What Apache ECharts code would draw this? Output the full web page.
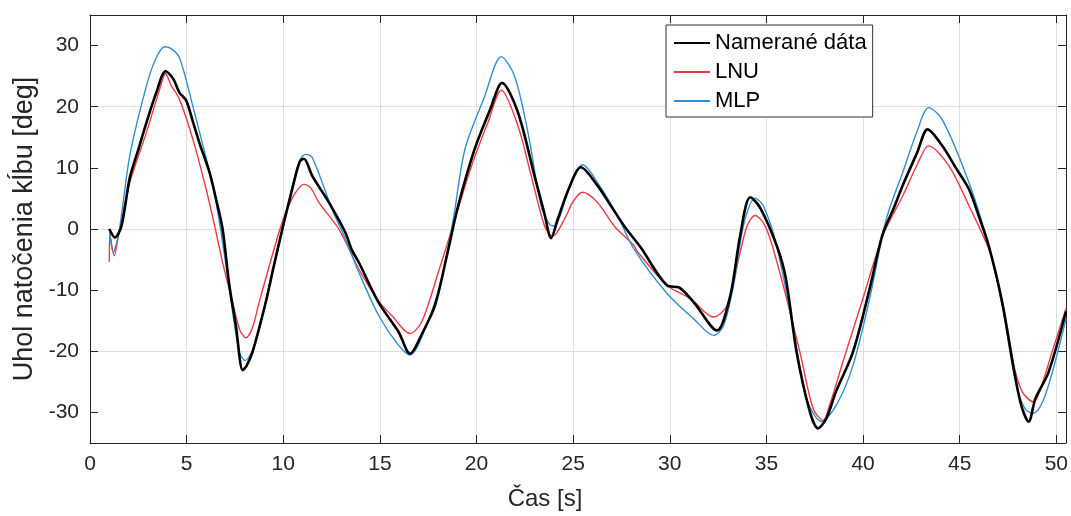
<!DOCTYPE html>
<html><head><meta charset="utf-8">
<script src="https://cdn.jsdelivr.net/npm/echarts@6/dist/echarts.min.js"></script>
<style>html,body{margin:0;padding:0;background:#fff}#c{width:1071px;height:516px}</style>
</head><body><div id="c"></div>
<script>
const seriesNames = ['Namerané dáta', 'LNU', 'MLP'];
const xTicks = [0, 5, 10, 15, 20, 25, 30, 35, 40, 45, 50];
const yTicks = [-30, -20, -10, 0, 10, 20, 30];

const tMeas = [1.0,1.29,1.63,2.06,2.5,2.92,3.43,3.91,4.3,4.63,4.98,5.3,5.66,6.18,6.5,6.86,7.21,7.55,7.9,8.1,8.41,9.1,9.5,9.95,10.5,10.85,11.07,11.5,12.36,13.2,13.56,13.9,14.93,15.96,16.56,17.2,17.85,18.54,19.05,19.9,20.7,21.32,22.14,23.0,23.5,23.86,24.2,24.8,25.4,26.26,26.95,27.64,28.49,29.87,30.5,31.24,32.44,33.13,33.64,34.16,34.67,35.53,36.0,36.56,37.25,37.67,38.1,38.6,39.48,40.34,41.0,41.6,42.05,42.8,43.34,44.1,44.8,45.48,46.0,46.5,47.2,47.89,48.2,48.57,48.92,49.6,50.5];
const vMeas = [0,-1.4,0.5,8.4,13.0,17.4,22.3,25.8,24.6,22.3,21.0,17.8,14.1,9.3,5.2,0,-9.2,-15.8,-23.1,-22.4,-20.1,-11.9,-6.2,0,7,11,11.5,8.7,4.35,-0.5,-3.5,-5.4,-12,-16.8,-20.4,-17,-12.5,-3.3,3.8,13.05,19.5,23.9,19.1,8.7,2.7,-1.5,1.6,6.8,10.1,7.1,3.8,0.5,-3.0,-9.25,-9.6,-12,-16.6,-10.9,-1.1,5.2,3.5,-2.7,-8,-20.1,-29.9,-32.6,-31,-26.6,-20.1,-9.8,-1,3.5,7.1,12.5,16.3,13.6,10,6.5,2,-2.7,-12,-24.5,-29,-31.5,-27.7,-23.4,-13.5];

const tLnu = [1.0,1.03,1.25,1.45,2.06,2.92,3.6,3.91,4.2,4.63,5.32,6.01,6.45,6.9,7.38,7.75,8.07,8.4,8.75,9.78,10.13,10.6,11.07,11.4,11.84,12.87,13.9,14.93,15.6,16.56,17.16,18.02,18.88,19.74,20.6,21.28,22.14,22.83,23.52,23.94,24.55,25.0,25.49,26.26,27.12,28.15,28.3,29.87,31.07,32.27,32.96,33.64,34.0,34.41,34.8,35.19,35.87,36.73,37.42,37.93,38.3,38.96,39.99,41.02,42.05,42.8,43.39,44.45,45.48,46.51,47.03,47.72,48.23,48.83,49.2,49.78,50.5];
const vLnu = [-5.4,-0.8,-4.4,-1.5,7.6,15.8,22.8,25.4,23.5,21.2,14.7,6.5,0.5,-6,-12,-16.5,-17.8,-16.2,-12,-0.5,2.7,5.8,7.3,6.8,4.35,0,-6.5,-11.8,-14.1,-17.1,-15.2,-7.1,1.6,10.3,17.5,22.7,16.9,8.7,0.5,-1.2,1.6,4.5,6,4.35,0.5,-2.7,-3.6,-9.25,-11.4,-14.4,-12.5,-3.8,0.5,2.2,1.2,-1.6,-9.25,-20.1,-29.4,-31.3,-28.5,-21.7,-11.4,-1.1,5.4,10.5,13.6,10.3,3.8,-3.3,-9.25,-21.2,-26.6,-28.3,-26,-20.1,-13];

const tMlp = [1.0,1.2,1.5,2.06,2.92,3.4,3.86,4.2,4.63,5.32,6.35,6.78,7.21,7.72,8.03,8.58,9.27,9.95,10.47,10.9,11.16,11.5,12.53,13.2,13.9,14.93,15.96,16.56,17.34,18.19,18.8,19.4,20.4,21.28,21.97,22.66,23.34,23.77,24.03,24.55,25.0,25.49,26.26,27.29,28.15,29.87,31.24,32.27,32.78,33.3,33.81,34.41,34.84,35.53,36.39,37.07,37.85,38.62,39.48,40.34,41.2,42.05,42.8,43.39,44.1,45.48,46.5,47.2,47.89,48.4,48.83,49.43,50.5];
const vMlp = [0,-3.8,-0.5,12,23.4,27.8,29.8,29.5,28,20.1,7.1,-0.5,-9.8,-20.1,-21.5,-18.5,-9.25,-0.5,7.1,11.5,12.2,11.7,3.2,-1.5,-7,-14.1,-19,-20.6,-16.3,-8.2,1.6,13.05,21.5,28.2,25,15.8,3.8,0.8,0.5,4.35,8.5,10.5,7.6,2.2,-3.3,-10.6,-14.7,-17.4,-15.8,-9.25,0.5,5.05,3.8,-2.7,-16.3,-27.7,-31.5,-28.8,-22.3,-11.4,1.6,9.25,16,19.85,17.9,7.6,-2.7,-12.5,-25,-29.5,-30.1,-27.2,-14.7];

const zip = (t, v) => t.map((x, i) => [x, v[i]]);
const FONT = "'Liberation Sans', Arial, sans-serif";
const AX = '#262626';
const GRID = '#dedede';

const chart = echarts.init(document.getElementById('c'), null, {renderer: 'canvas'});
chart.setOption({
  animation: false,
  backgroundColor: '#fff',
  textStyle: {fontFamily: FONT},
  grid: {left: 90, right: 1, top: 15, bottom: 72, containLabel: false},
  legend: {
    data: seriesNames,
    icon: 'rect',
    orient: 'vertical',
    left: 666, top: 25,
    padding: [7, 6, 5, 8],
    itemGap: 7,
    itemWidth: 36, itemHeight: 2,
    backgroundColor: '#fff',
    borderColor: '#333', borderWidth: 1, borderRadius: 0,
    textStyle: {fontFamily: FONT, fontSize: 22, color: '#000'}
  },
  xAxis: [{
    type: 'value', min: 0, max: 50.5, interval: 5,
    name: 'Čas [s]', nameLocation: 'middle', nameGap: 44,
    nameTextStyle: {fontFamily: FONT, fontSize: 24, color: AX, padding: [0, 66, 0, 0]},
    axisLine: {show: true, onZero: false, lineStyle: {color: AX, width: 1}},
    axisTick: {show: true, inside: true, length: 8, lineStyle: {color: AX}},
    axisLabel: {fontFamily: FONT, fontSize: 21, color: AX, margin: 11, showMaxLabel: false,
      formatter: v => (xTicks.indexOf(v) >= 0 ? String(v) : '')},
    splitLine: {show: true, lineStyle: {color: GRID, width: 1}}
  }, {
    type: 'value', min: 0, max: 50.5, interval: 5, position: 'top',
    axisLine: {show: true, onZero: false, lineStyle: {color: AX, width: 1}},
    axisTick: {show: true, inside: true, length: 8, lineStyle: {color: AX}},
    axisLabel: {show: false}, splitLine: {show: false}
  }],
  yAxis: [{
    type: 'value', min: -35, max: 35, interval: 5,
    name: 'Uhol natočenia kĺbu [deg]', nameLocation: 'middle', nameGap: 50,
    nameTextStyle: {fontFamily: FONT, fontSize: 27, color: AX},
    axisLine: {show: true, onZero: false, lineStyle: {color: AX, width: 1}},
    axisTick: {show: true, inside: true, length: 8, customValues: yTicks, lineStyle: {color: AX}},
    axisLabel: {fontFamily: FONT, fontSize: 21, color: AX, margin: 11, customValues: yTicks,
      formatter: v => (yTicks.indexOf(v) >= 0 ? String(v) : '')},
    splitLine: {show: true, lineStyle: {color: ['rgba(0,0,0,0)', GRID], width: 1}}
  }, {
    type: 'value', min: -35, max: 35, interval: 5, position: 'right',
    axisLine: {show: true, onZero: false, lineStyle: {color: AX, width: 1}},
    axisTick: {show: true, inside: true, length: 8, customValues: yTicks, lineStyle: {color: AX}},
    axisLabel: {show: false}, splitLine: {show: false}
  }],
  series: [
    {name: seriesNames[1], type: 'line', data: zip(tLnu, vLnu), smooth: 0.3, showSymbol: false,
     lineStyle: {color: '#ee3a44', width: 1.4}, itemStyle: {color: '#ee3a44'}, z: 2},
    {name: seriesNames[2], type: 'line', data: zip(tMlp, vMlp), smooth: 0.3, showSymbol: false,
     lineStyle: {color: '#2f8fd3', width: 1.4}, itemStyle: {color: '#2f8fd3'}, z: 2},
    {name: seriesNames[0], type: 'line', data: zip(tMeas, vMeas), smooth: 0.3, showSymbol: false,
     lineStyle: {color: '#000', width: 2.6}, itemStyle: {color: '#000'}, z: 3}
  ]
});
</script></body></html>
